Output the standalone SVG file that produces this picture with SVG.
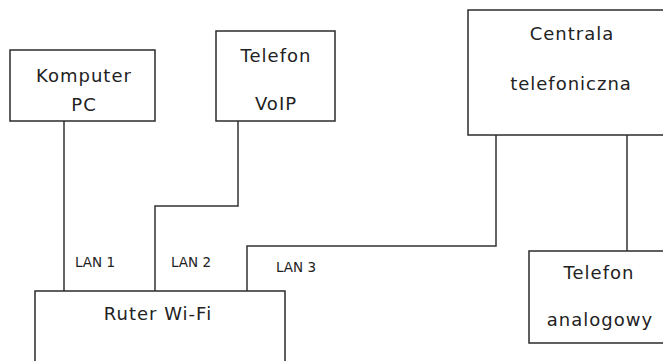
<svg xmlns="http://www.w3.org/2000/svg" width="663" height="361" viewBox="0 0 663 361">
<style>
.box{fill:#fff;stroke:#2b2b2b;stroke-width:1.5}
.t{font-family:"DejaVu Sans",Verdana,sans-serif;font-size:18px;fill:#222;text-anchor:middle;letter-spacing:1px}
.s{font-family:"DejaVu Sans",Verdana,sans-serif;font-size:13.5px;fill:#222}
.w{fill:none;stroke:#333;stroke-width:1.5}
</style>
<rect width="663" height="361" fill="#fff"/>
<g id="connectors">
<path class="w" d="M64 121V291"/>
<path class="w" d="M238 121V206H155V291"/>
<path class="w" d="M496 135V246H247V291"/>
<path class="w" d="M627 135V251"/>
</g>
<g id="komputer">
<rect class="box" x="10" y="50" width="145" height="71"/>
<text class="t" x="84" y="82">Komputer</text>
<text class="t" x="84" y="111">PC</text>
</g>
<g id="voip">
<rect class="box" x="216" y="31" width="119" height="90"/>
<text class="t" x="276" y="62">Telefon</text>
<text class="t" x="276" y="110">VoIP</text>
</g>
<g id="centrala">
<rect class="box" x="468" y="10" width="205" height="125"/>
<text class="t" x="572" y="40">Centrala</text>
<text class="t" x="571" y="90">telefoniczna</text>
</g>
<g id="analog">
<rect class="box" x="529" y="251" width="144" height="92"/>
<text class="t" x="599" y="279">Telefon</text>
<text class="t" x="600" y="326">analogowy</text>
</g>
<g id="ruter">
<rect class="box" x="35" y="291" width="250" height="80"/>
<text class="t" x="158" y="320">Ruter Wi-Fi</text>
</g>
<g id="labels">
<text class="s" x="75" y="267">LAN 1</text>
<text class="s" x="171" y="267">LAN 2</text>
<text class="s" x="276" y="272">LAN 3</text>
</g>
</svg>
